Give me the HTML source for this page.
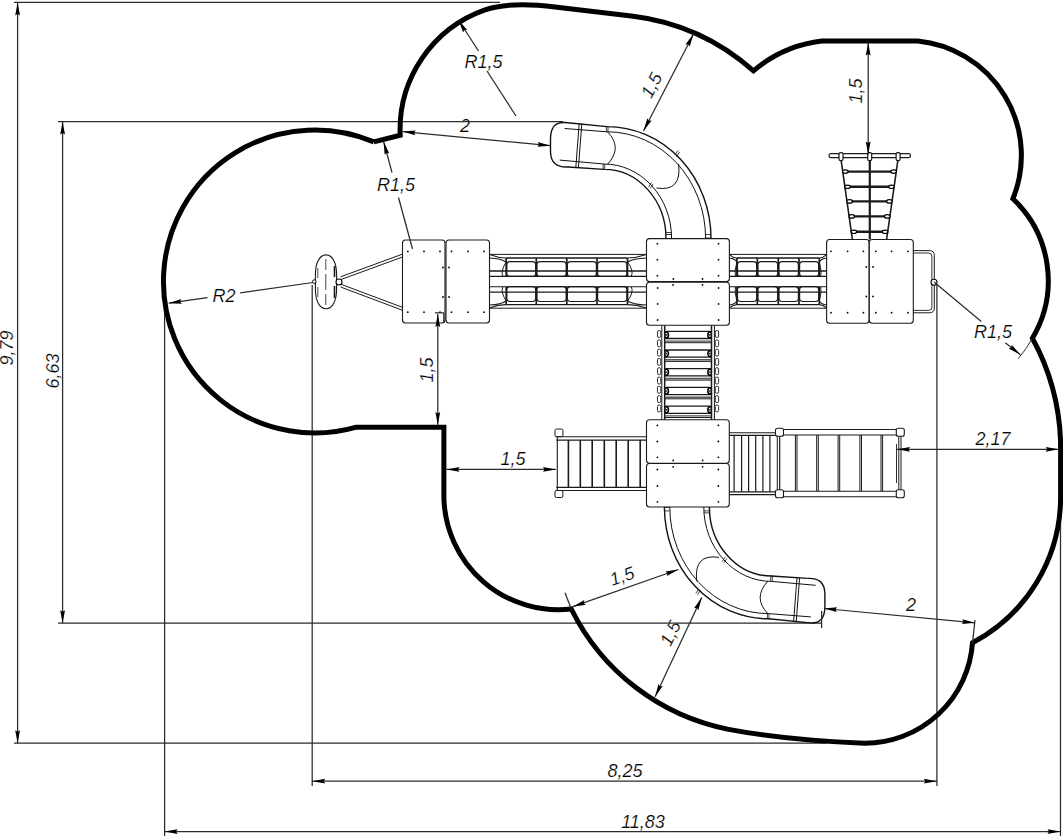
<!DOCTYPE html>
<html><head><meta charset="utf-8"><style>html,body{margin:0;padding:0;background:#fff;overflow:hidden}svg{display:block}</style></head>
<body><svg width="1063" height="836" viewBox="0 0 1063 836"><rect width="100%" height="100%" fill="#fff"/><g font-family="Liberation Sans, sans-serif" font-style="italic" fill="#000"><line x1="14" y1="2.4" x2="500" y2="2.4" stroke="#2b2b2b" stroke-width="1.25"/>
<line x1="14" y1="743.2" x2="826" y2="743.2" stroke="#2b2b2b" stroke-width="1.25"/>
<line x1="17.6" y1="2.4" x2="17.6" y2="743.2" stroke="#2b2b2b" stroke-width="1.25"/>
<path d="M17.6,2.4 L15.2,15.4 L17.6,13.84 L20,15.4 Z" fill="#000"/>
<path d="M17.6,743.2 L20,730.2 L17.6,731.76 L15.2,730.2 Z" fill="#000"/>
<text x="13" y="348" font-size="18" text-anchor="middle" transform="rotate(-90 13 348)" stroke="#fff" stroke-width="0.2">9,79</text>
<line x1="58" y1="121.5" x2="563" y2="121.5" stroke="#2b2b2b" stroke-width="1.25"/>
<line x1="58" y1="623.2" x2="822" y2="623.2" stroke="#2b2b2b" stroke-width="1.25"/>
<line x1="62.6" y1="121.5" x2="62.6" y2="623.2" stroke="#2b2b2b" stroke-width="1.25"/>
<path d="M62.6,121.5 L60.2,134.5 L62.6,132.94 L65,134.5 Z" fill="#000"/>
<path d="M62.6,623.2 L65,610.2 L62.6,611.76 L60.2,610.2 Z" fill="#000"/>
<text x="58.5" y="371" font-size="18" text-anchor="middle" transform="rotate(-90 58.5 371)" stroke="#fff" stroke-width="0.2">6,63</text>
<line x1="164.6" y1="303" x2="164.6" y2="836" stroke="#2b2b2b" stroke-width="1.25"/>
<line x1="1060.5" y1="498" x2="1060.5" y2="836" stroke="#2b2b2b" stroke-width="1.25"/>
<line x1="164.6" y1="831.6" x2="1060.5" y2="831.6" stroke="#2b2b2b" stroke-width="1.25"/>
<path d="M164.6,831.6 L177.6,834 L176.04,831.6 L177.6,829.2 Z" fill="#000"/>
<path d="M1060.5,831.6 L1047.5,829.2 L1049.06,831.6 L1047.5,834 Z" fill="#000"/>
<text x="643" y="827.7" font-size="18" text-anchor="middle" stroke="#fff" stroke-width="0.2">11,83</text>
<line x1="312.2" y1="285" x2="312.2" y2="786" stroke="#2b2b2b" stroke-width="1.25"/>
<line x1="936.9" y1="284" x2="936.9" y2="786" stroke="#2b2b2b" stroke-width="1.25"/>
<line x1="312.2" y1="781.2" x2="936.9" y2="781.2" stroke="#2b2b2b" stroke-width="1.25"/>
<path d="M312.2,781.2 L325.2,783.6 L323.64,781.2 L325.2,778.8 Z" fill="#000"/>
<path d="M936.9,781.2 L923.9,778.8 L925.46,781.2 L923.9,783.6 Z" fill="#000"/>
<text x="625" y="777" font-size="18" text-anchor="middle" stroke="#fff" stroke-width="0.2">8,25</text>
<path d="M373.8,141.9 A151.5,151.5 0 1 0 356.5,427.2 L443.9,427.2 L443.9,498 A114.6,114.6 0 0 0 571.3,609 A223.4,223.4 0 0 0 728.6,729.4 C770,737.2 820,741.6 864.6,743.2 A108,108 0 0 0 972.5,642.8 A165,165 0 0 0 1060.6,499 L1060.6,442 A231,231 0 0 0 1032.4,338.2 A112.4,112.4 0 0 0 1012.9,198.8 A115,115 0 0 0 917.8,41 L821.8,41 A129,129 0 0 0 753.5,70.8 A223.5,223.5 0 0 0 631.4,15.9 L555,6.9 Q509.3,1.5 485,9.8 A127,127 0 0 0 400.2,135.3 L373.8,141.9" fill="none" stroke="#000" stroke-width="5" stroke-linejoin="miter"/>
<line x1="489.5" y1="254.4" x2="646.4" y2="254.4" stroke="#1a1a1a" stroke-width="1"/>
<line x1="489.5" y1="308.2" x2="646.4" y2="308.2" stroke="#1a1a1a" stroke-width="1"/>
<line x1="489.5" y1="271" x2="646.4" y2="271" stroke="#1a1a1a" stroke-width="1.3"/>
<line x1="489.5" y1="292.1" x2="646.4" y2="292.1" stroke="#1a1a1a" stroke-width="1.3"/>
<line x1="489.5" y1="276.4" x2="646.4" y2="276.4" stroke="#1a1a1a" stroke-width="1.1"/>
<line x1="489.5" y1="286.7" x2="646.4" y2="286.7" stroke="#1a1a1a" stroke-width="1.1"/>
<line x1="506.2" y1="258" x2="627.5" y2="258" stroke="#1a1a1a" stroke-width="1.3"/>
<line x1="506.2" y1="304.6" x2="627.5" y2="304.6" stroke="#1a1a1a" stroke-width="1.3"/>
<rect x="506.8" y="261.6" width="28.9" height="14.8" rx="3.2" fill="none" stroke="#1a1a1a" stroke-width="1.2"/>
<rect x="506.8" y="286.7" width="28.9" height="14.8" rx="3.2" fill="none" stroke="#1a1a1a" stroke-width="1.2"/>
<rect x="536.9" y="261.6" width="29.3" height="14.8" rx="3.2" fill="none" stroke="#1a1a1a" stroke-width="1.2"/>
<rect x="536.9" y="286.7" width="29.3" height="14.8" rx="3.2" fill="none" stroke="#1a1a1a" stroke-width="1.2"/>
<rect x="567.4" y="261.6" width="29" height="14.8" rx="3.2" fill="none" stroke="#1a1a1a" stroke-width="1.2"/>
<rect x="567.4" y="286.7" width="29" height="14.8" rx="3.2" fill="none" stroke="#1a1a1a" stroke-width="1.2"/>
<rect x="597.6" y="261.6" width="29.3" height="14.8" rx="3.2" fill="none" stroke="#1a1a1a" stroke-width="1.2"/>
<rect x="597.6" y="286.7" width="29.3" height="14.8" rx="3.2" fill="none" stroke="#1a1a1a" stroke-width="1.2"/>
<line x1="506.2" y1="258" x2="506.2" y2="276.4" stroke="#1a1a1a" stroke-width="1.7"/>
<line x1="506.2" y1="286.7" x2="506.2" y2="304.6" stroke="#1a1a1a" stroke-width="1.7"/>
<line x1="536.3" y1="258" x2="536.3" y2="276.4" stroke="#1a1a1a" stroke-width="1.7"/>
<line x1="536.3" y1="286.7" x2="536.3" y2="304.6" stroke="#1a1a1a" stroke-width="1.7"/>
<line x1="566.8" y1="258" x2="566.8" y2="276.4" stroke="#1a1a1a" stroke-width="1.7"/>
<line x1="566.8" y1="286.7" x2="566.8" y2="304.6" stroke="#1a1a1a" stroke-width="1.7"/>
<line x1="597" y1="258" x2="597" y2="276.4" stroke="#1a1a1a" stroke-width="1.7"/>
<line x1="597" y1="286.7" x2="597" y2="304.6" stroke="#1a1a1a" stroke-width="1.7"/>
<line x1="627.5" y1="258" x2="627.5" y2="276.4" stroke="#1a1a1a" stroke-width="1.7"/>
<line x1="627.5" y1="286.7" x2="627.5" y2="304.6" stroke="#1a1a1a" stroke-width="1.7"/>
<path d="M506.2,258 Q497.85,258 489.5,254.6" fill="none" stroke="#1a1a1a" stroke-width="1.1"/>
<path d="M506.2,304.6 Q497.85,304.6 489.5,308" fill="none" stroke="#1a1a1a" stroke-width="1.1"/>
<path d="M506.2,262 Q501.19,258.5 489.5,258" fill="none" stroke="#1a1a1a" stroke-width="1.1"/>
<path d="M506.2,301 Q501.19,304.5 489.5,305" fill="none" stroke="#1a1a1a" stroke-width="1.1"/>
<path d="M506.2,262 Q500.36,271 502.86,276.4" fill="none" stroke="#1a1a1a" stroke-width="1"/>
<path d="M506.2,301 Q500.36,292 502.86,286.7" fill="none" stroke="#1a1a1a" stroke-width="1"/>
<path d="M627.5,258 Q636.95,258 646.4,254.6" fill="none" stroke="#1a1a1a" stroke-width="1.1"/>
<path d="M627.5,304.6 Q636.95,304.6 646.4,308" fill="none" stroke="#1a1a1a" stroke-width="1.1"/>
<path d="M627.5,262 Q633.17,258.5 646.4,258" fill="none" stroke="#1a1a1a" stroke-width="1.1"/>
<path d="M627.5,301 Q633.17,304.5 646.4,305" fill="none" stroke="#1a1a1a" stroke-width="1.1"/>
<path d="M627.5,262 Q634.12,271 631.28,276.4" fill="none" stroke="#1a1a1a" stroke-width="1"/>
<path d="M627.5,301 Q634.12,292 631.28,286.7" fill="none" stroke="#1a1a1a" stroke-width="1"/>
<line x1="729.4" y1="254.4" x2="826.6" y2="254.4" stroke="#1a1a1a" stroke-width="1"/>
<line x1="729.4" y1="308.2" x2="826.6" y2="308.2" stroke="#1a1a1a" stroke-width="1"/>
<line x1="729.4" y1="271" x2="826.6" y2="271" stroke="#1a1a1a" stroke-width="1.3"/>
<line x1="729.4" y1="292.1" x2="826.6" y2="292.1" stroke="#1a1a1a" stroke-width="1.3"/>
<line x1="729.4" y1="276.4" x2="826.6" y2="276.4" stroke="#1a1a1a" stroke-width="1.1"/>
<line x1="729.4" y1="286.7" x2="826.6" y2="286.7" stroke="#1a1a1a" stroke-width="1.1"/>
<line x1="736.9" y1="258" x2="819.3" y2="258" stroke="#1a1a1a" stroke-width="1.3"/>
<line x1="736.9" y1="304.6" x2="819.3" y2="304.6" stroke="#1a1a1a" stroke-width="1.3"/>
<rect x="737.5" y="261.6" width="19.2" height="14.8" rx="3.2" fill="none" stroke="#1a1a1a" stroke-width="1.2"/>
<rect x="737.5" y="286.7" width="19.2" height="14.8" rx="3.2" fill="none" stroke="#1a1a1a" stroke-width="1.2"/>
<rect x="757.9" y="261.6" width="19.8" height="14.8" rx="3.2" fill="none" stroke="#1a1a1a" stroke-width="1.2"/>
<rect x="757.9" y="286.7" width="19.8" height="14.8" rx="3.2" fill="none" stroke="#1a1a1a" stroke-width="1.2"/>
<rect x="778.9" y="261.6" width="19.5" height="14.8" rx="3.2" fill="none" stroke="#1a1a1a" stroke-width="1.2"/>
<rect x="778.9" y="286.7" width="19.5" height="14.8" rx="3.2" fill="none" stroke="#1a1a1a" stroke-width="1.2"/>
<rect x="799.6" y="261.6" width="19.1" height="14.8" rx="3.2" fill="none" stroke="#1a1a1a" stroke-width="1.2"/>
<rect x="799.6" y="286.7" width="19.1" height="14.8" rx="3.2" fill="none" stroke="#1a1a1a" stroke-width="1.2"/>
<line x1="736.9" y1="258" x2="736.9" y2="276.4" stroke="#1a1a1a" stroke-width="1.7"/>
<line x1="736.9" y1="286.7" x2="736.9" y2="304.6" stroke="#1a1a1a" stroke-width="1.7"/>
<line x1="757.3" y1="258" x2="757.3" y2="276.4" stroke="#1a1a1a" stroke-width="1.7"/>
<line x1="757.3" y1="286.7" x2="757.3" y2="304.6" stroke="#1a1a1a" stroke-width="1.7"/>
<line x1="778.3" y1="258" x2="778.3" y2="276.4" stroke="#1a1a1a" stroke-width="1.7"/>
<line x1="778.3" y1="286.7" x2="778.3" y2="304.6" stroke="#1a1a1a" stroke-width="1.7"/>
<line x1="799" y1="258" x2="799" y2="276.4" stroke="#1a1a1a" stroke-width="1.7"/>
<line x1="799" y1="286.7" x2="799" y2="304.6" stroke="#1a1a1a" stroke-width="1.7"/>
<line x1="819.3" y1="258" x2="819.3" y2="276.4" stroke="#1a1a1a" stroke-width="1.7"/>
<line x1="819.3" y1="286.7" x2="819.3" y2="304.6" stroke="#1a1a1a" stroke-width="1.7"/>
<path d="M736.9,258 Q733.15,258 729.4,254.6" fill="none" stroke="#1a1a1a" stroke-width="1.1"/>
<path d="M736.9,304.6 Q733.15,304.6 729.4,308" fill="none" stroke="#1a1a1a" stroke-width="1.1"/>
<path d="M736.9,262 Q734.65,258.5 729.4,258" fill="none" stroke="#1a1a1a" stroke-width="1.1"/>
<path d="M736.9,301 Q734.65,304.5 729.4,305" fill="none" stroke="#1a1a1a" stroke-width="1.1"/>
<path d="M736.9,262 Q734.27,271 735.4,276.4" fill="none" stroke="#1a1a1a" stroke-width="1"/>
<path d="M736.9,301 Q734.27,292 735.4,286.7" fill="none" stroke="#1a1a1a" stroke-width="1"/>
<path d="M819.3,258 Q822.95,258 826.6,254.6" fill="none" stroke="#1a1a1a" stroke-width="1.1"/>
<path d="M819.3,304.6 Q822.95,304.6 826.6,308" fill="none" stroke="#1a1a1a" stroke-width="1.1"/>
<path d="M819.3,262 Q821.49,258.5 826.6,258" fill="none" stroke="#1a1a1a" stroke-width="1.1"/>
<path d="M819.3,301 Q821.49,304.5 826.6,305" fill="none" stroke="#1a1a1a" stroke-width="1.1"/>
<path d="M819.3,262 Q821.86,271 820.76,276.4" fill="none" stroke="#1a1a1a" stroke-width="1"/>
<path d="M819.3,301 Q821.86,292 820.76,286.7" fill="none" stroke="#1a1a1a" stroke-width="1"/>
<rect x="402.5" y="240" width="42.5" height="83" rx="3" fill="#fff" stroke="#1a1a1a" stroke-width="1.1"/>
<circle cx="407.8" cy="251.4" r="0.9" fill="#000"/>
<circle cx="407.8" cy="312.2" r="0.9" fill="#000"/>
<circle cx="424" cy="251.4" r="0.9" fill="#000"/>
<circle cx="424" cy="312.2" r="0.9" fill="#000"/>
<circle cx="440" cy="251.4" r="0.9" fill="#000"/>
<circle cx="440" cy="312.2" r="0.9" fill="#000"/>
<circle cx="443" cy="267.5" r="0.9" fill="#000"/>
<circle cx="443" cy="297" r="0.9" fill="#000"/>
<rect x="446" y="240" width="43.5" height="83" rx="3" fill="#fff" stroke="#1a1a1a" stroke-width="1.1"/>
<circle cx="451.5" cy="251.4" r="0.9" fill="#000"/>
<circle cx="451.5" cy="312.2" r="0.9" fill="#000"/>
<circle cx="468" cy="251.4" r="0.9" fill="#000"/>
<circle cx="468" cy="312.2" r="0.9" fill="#000"/>
<circle cx="484" cy="251.4" r="0.9" fill="#000"/>
<circle cx="484" cy="312.2" r="0.9" fill="#000"/>
<circle cx="449" cy="267.5" r="0.9" fill="#000"/>
<circle cx="449" cy="297" r="0.9" fill="#000"/>
<rect x="826.6" y="239.5" width="42.5" height="83.8" rx="3" fill="#fff" stroke="#1a1a1a" stroke-width="1.1"/>
<circle cx="831" cy="251.3" r="0.9" fill="#000"/>
<circle cx="831" cy="312.7" r="0.9" fill="#000"/>
<circle cx="847.6" cy="251.3" r="0.9" fill="#000"/>
<circle cx="847.6" cy="312.7" r="0.9" fill="#000"/>
<circle cx="863.4" cy="251.3" r="0.9" fill="#000"/>
<circle cx="863.4" cy="312.7" r="0.9" fill="#000"/>
<circle cx="866.3" cy="267" r="0.9" fill="#000"/>
<circle cx="866.3" cy="296.5" r="0.9" fill="#000"/>
<rect x="869.3" y="239.5" width="44" height="83.8" rx="3" fill="#fff" stroke="#1a1a1a" stroke-width="1.1"/>
<circle cx="875.8" cy="251.3" r="0.9" fill="#000"/>
<circle cx="875.8" cy="312.7" r="0.9" fill="#000"/>
<circle cx="891.6" cy="251.3" r="0.9" fill="#000"/>
<circle cx="891.6" cy="312.7" r="0.9" fill="#000"/>
<circle cx="907.9" cy="251.3" r="0.9" fill="#000"/>
<circle cx="907.9" cy="312.7" r="0.9" fill="#000"/>
<circle cx="873" cy="267" r="0.9" fill="#000"/>
<circle cx="873" cy="296.5" r="0.9" fill="#000"/>
<rect x="646.5" y="238.6" width="82.9" height="43" rx="3" fill="#fff" stroke="#1a1a1a" stroke-width="1.1"/>
<circle cx="657.4" cy="243.7" r="0.9" fill="#000"/>
<circle cx="657.4" cy="259.7" r="0.9" fill="#000"/>
<circle cx="657.4" cy="275.7" r="0.9" fill="#000"/>
<circle cx="718.5" cy="243.7" r="0.9" fill="#000"/>
<circle cx="718.5" cy="259.7" r="0.9" fill="#000"/>
<circle cx="718.5" cy="275.7" r="0.9" fill="#000"/>
<circle cx="673.4" cy="279" r="0.9" fill="#000"/>
<circle cx="702.5" cy="279" r="0.9" fill="#000"/>
<rect x="646.5" y="282.2" width="82.9" height="43.1" rx="3" fill="#fff" stroke="#1a1a1a" stroke-width="1.1"/>
<circle cx="657.6" cy="288" r="0.9" fill="#000"/>
<circle cx="657.6" cy="303.9" r="0.9" fill="#000"/>
<circle cx="657.6" cy="320" r="0.9" fill="#000"/>
<circle cx="718.6" cy="288" r="0.9" fill="#000"/>
<circle cx="718.6" cy="303.9" r="0.9" fill="#000"/>
<circle cx="718.6" cy="320" r="0.9" fill="#000"/>
<circle cx="673" cy="284.9" r="0.9" fill="#000"/>
<circle cx="702.5" cy="284.9" r="0.9" fill="#000"/>
<rect x="646.5" y="419.8" width="82.8" height="43.4" rx="3" fill="#fff" stroke="#1a1a1a" stroke-width="1.1"/>
<circle cx="657.4" cy="425.4" r="0.9" fill="#000"/>
<circle cx="657.4" cy="441.5" r="0.9" fill="#000"/>
<circle cx="657.4" cy="457.3" r="0.9" fill="#000"/>
<circle cx="718.4" cy="425.4" r="0.9" fill="#000"/>
<circle cx="718.4" cy="441.5" r="0.9" fill="#000"/>
<circle cx="718.4" cy="457.3" r="0.9" fill="#000"/>
<circle cx="673.2" cy="460.4" r="0.9" fill="#000"/>
<circle cx="702.6" cy="460.4" r="0.9" fill="#000"/>
<rect x="646.5" y="463.5" width="82.8" height="43.5" rx="3" fill="#fff" stroke="#1a1a1a" stroke-width="1.1"/>
<circle cx="657.4" cy="469.5" r="0.9" fill="#000"/>
<circle cx="657.4" cy="486" r="0.9" fill="#000"/>
<circle cx="657.4" cy="501.8" r="0.9" fill="#000"/>
<circle cx="718.4" cy="469.5" r="0.9" fill="#000"/>
<circle cx="718.4" cy="486" r="0.9" fill="#000"/>
<circle cx="718.4" cy="501.8" r="0.9" fill="#000"/>
<circle cx="673.2" cy="466.8" r="0.9" fill="#000"/>
<circle cx="702.6" cy="466.8" r="0.9" fill="#000"/>
<rect x="657.5" y="330.5" width="3.3" height="7" rx="1.5" fill="#fff" stroke="#1a1a1a" stroke-width="0.9"/>
<rect x="715.3" y="330.5" width="3.3" height="7" rx="1.5" fill="#fff" stroke="#1a1a1a" stroke-width="0.9"/>
<rect x="657.5" y="339.8" width="3.3" height="7" rx="1.5" fill="#fff" stroke="#1a1a1a" stroke-width="0.9"/>
<rect x="715.3" y="339.8" width="3.3" height="7" rx="1.5" fill="#fff" stroke="#1a1a1a" stroke-width="0.9"/>
<rect x="657.5" y="349.1" width="3.3" height="7" rx="1.5" fill="#fff" stroke="#1a1a1a" stroke-width="0.9"/>
<rect x="715.3" y="349.1" width="3.3" height="7" rx="1.5" fill="#fff" stroke="#1a1a1a" stroke-width="0.9"/>
<rect x="657.5" y="358.4" width="3.3" height="7" rx="1.5" fill="#fff" stroke="#1a1a1a" stroke-width="0.9"/>
<rect x="715.3" y="358.4" width="3.3" height="7" rx="1.5" fill="#fff" stroke="#1a1a1a" stroke-width="0.9"/>
<rect x="657.5" y="367.7" width="3.3" height="7" rx="1.5" fill="#fff" stroke="#1a1a1a" stroke-width="0.9"/>
<rect x="715.3" y="367.7" width="3.3" height="7" rx="1.5" fill="#fff" stroke="#1a1a1a" stroke-width="0.9"/>
<rect x="657.5" y="377" width="3.3" height="7" rx="1.5" fill="#fff" stroke="#1a1a1a" stroke-width="0.9"/>
<rect x="715.3" y="377" width="3.3" height="7" rx="1.5" fill="#fff" stroke="#1a1a1a" stroke-width="0.9"/>
<rect x="657.5" y="386.3" width="3.3" height="7" rx="1.5" fill="#fff" stroke="#1a1a1a" stroke-width="0.9"/>
<rect x="715.3" y="386.3" width="3.3" height="7" rx="1.5" fill="#fff" stroke="#1a1a1a" stroke-width="0.9"/>
<rect x="657.5" y="395.6" width="3.3" height="7" rx="1.5" fill="#fff" stroke="#1a1a1a" stroke-width="0.9"/>
<rect x="715.3" y="395.6" width="3.3" height="7" rx="1.5" fill="#fff" stroke="#1a1a1a" stroke-width="0.9"/>
<rect x="657.5" y="404.9" width="3.3" height="7" rx="1.5" fill="#fff" stroke="#1a1a1a" stroke-width="0.9"/>
<rect x="715.3" y="404.9" width="3.3" height="7" rx="1.5" fill="#fff" stroke="#1a1a1a" stroke-width="0.9"/>
<line x1="661.8" y1="325.3" x2="661.8" y2="419.8" stroke="#1a1a1a" stroke-width="1"/>
<line x1="664.7" y1="325.3" x2="664.7" y2="419.8" stroke="#1a1a1a" stroke-width="1.5"/>
<line x1="711.5" y1="325.3" x2="711.5" y2="419.8" stroke="#1a1a1a" stroke-width="1.5"/>
<line x1="714.4" y1="325.3" x2="714.4" y2="419.8" stroke="#1a1a1a" stroke-width="1"/>
<rect x="665" y="331.3" width="46.2" height="7.2" rx="2" fill="none" stroke="#1a1a1a" stroke-width="1.3"/>
<line x1="665" y1="341.1" x2="711.2" y2="341.1" stroke="#555" stroke-width="1.4"/>
<line x1="665" y1="342.7" x2="711.2" y2="342.7" stroke="#1a1a1a" stroke-width="1"/>
<path d="M665.3,331.7 A3.2,3.2 0 0 1 665.3,338.1" fill="none" stroke="#000" stroke-width="1.5"/>
<path d="M711,331.7 A3.2,3.2 0 0 0 711,338.1" fill="none" stroke="#000" stroke-width="1.5"/>
<circle cx="666.6" cy="334.9" r="0.8" fill="#000"/>
<circle cx="709.7" cy="334.9" r="0.8" fill="#000"/>
<rect x="665" y="350" width="46.2" height="7.2" rx="2" fill="none" stroke="#1a1a1a" stroke-width="1.3"/>
<line x1="665" y1="359.8" x2="711.2" y2="359.8" stroke="#555" stroke-width="1.4"/>
<line x1="665" y1="361.4" x2="711.2" y2="361.4" stroke="#1a1a1a" stroke-width="1"/>
<path d="M665.3,350.4 A3.2,3.2 0 0 1 665.3,356.8" fill="none" stroke="#000" stroke-width="1.5"/>
<path d="M711,350.4 A3.2,3.2 0 0 0 711,356.8" fill="none" stroke="#000" stroke-width="1.5"/>
<circle cx="666.6" cy="353.6" r="0.8" fill="#000"/>
<circle cx="709.7" cy="353.6" r="0.8" fill="#000"/>
<rect x="665" y="368.7" width="46.2" height="7.2" rx="2" fill="none" stroke="#1a1a1a" stroke-width="1.3"/>
<line x1="665" y1="378.5" x2="711.2" y2="378.5" stroke="#555" stroke-width="1.4"/>
<line x1="665" y1="380.1" x2="711.2" y2="380.1" stroke="#1a1a1a" stroke-width="1"/>
<path d="M665.3,369.1 A3.2,3.2 0 0 1 665.3,375.5" fill="none" stroke="#000" stroke-width="1.5"/>
<path d="M711,369.1 A3.2,3.2 0 0 0 711,375.5" fill="none" stroke="#000" stroke-width="1.5"/>
<circle cx="666.6" cy="372.3" r="0.8" fill="#000"/>
<circle cx="709.7" cy="372.3" r="0.8" fill="#000"/>
<rect x="665" y="387.4" width="46.2" height="7.2" rx="2" fill="none" stroke="#1a1a1a" stroke-width="1.3"/>
<line x1="665" y1="397.2" x2="711.2" y2="397.2" stroke="#555" stroke-width="1.4"/>
<line x1="665" y1="398.8" x2="711.2" y2="398.8" stroke="#1a1a1a" stroke-width="1"/>
<path d="M665.3,387.8 A3.2,3.2 0 0 1 665.3,394.2" fill="none" stroke="#000" stroke-width="1.5"/>
<path d="M711,387.8 A3.2,3.2 0 0 0 711,394.2" fill="none" stroke="#000" stroke-width="1.5"/>
<circle cx="666.6" cy="391" r="0.8" fill="#000"/>
<circle cx="709.7" cy="391" r="0.8" fill="#000"/>
<rect x="665" y="406.1" width="46.2" height="7.2" rx="2" fill="none" stroke="#1a1a1a" stroke-width="1.3"/>
<line x1="665" y1="415.9" x2="711.2" y2="415.9" stroke="#555" stroke-width="1.4"/>
<line x1="665" y1="417.5" x2="711.2" y2="417.5" stroke="#1a1a1a" stroke-width="1"/>
<path d="M665.3,406.5 A3.2,3.2 0 0 1 665.3,412.9" fill="none" stroke="#000" stroke-width="1.5"/>
<path d="M711,406.5 A3.2,3.2 0 0 0 711,412.9" fill="none" stroke="#000" stroke-width="1.5"/>
<circle cx="666.6" cy="409.7" r="0.8" fill="#000"/>
<circle cx="709.7" cy="409.7" r="0.8" fill="#000"/>
<rect x="555" y="429" width="7.9" height="7.7" rx="1.5" fill="#fff" stroke="#1a1a1a" stroke-width="1"/>
<rect x="555" y="490.5" width="7.9" height="7" rx="1.5" fill="#fff" stroke="#1a1a1a" stroke-width="1"/>
<line x1="556.3" y1="436.7" x2="646.4" y2="436.7" stroke="#1a1a1a" stroke-width="1.1"/>
<line x1="556.3" y1="440.1" x2="646.4" y2="440.1" stroke="#1a1a1a" stroke-width="1.1"/>
<line x1="556.3" y1="487.4" x2="646.4" y2="487.4" stroke="#1a1a1a" stroke-width="1.1"/>
<line x1="556.3" y1="490.5" x2="646.4" y2="490.5" stroke="#1a1a1a" stroke-width="1.1"/>
<line x1="557.3" y1="436.7" x2="557.3" y2="490.5" stroke="#1a1a1a" stroke-width="1.1"/>
<line x1="568.4" y1="440.1" x2="568.4" y2="487.4" stroke="#1a1a1a" stroke-width="1.6"/>
<line x1="580.3" y1="440.1" x2="580.3" y2="487.4" stroke="#1a1a1a" stroke-width="1.6"/>
<line x1="592.2" y1="440.1" x2="592.2" y2="487.4" stroke="#1a1a1a" stroke-width="1.6"/>
<line x1="604.3" y1="440.1" x2="604.3" y2="487.4" stroke="#1a1a1a" stroke-width="1.6"/>
<line x1="616.2" y1="440.1" x2="616.2" y2="487.4" stroke="#1a1a1a" stroke-width="1.6"/>
<line x1="628.2" y1="440.1" x2="628.2" y2="487.4" stroke="#1a1a1a" stroke-width="1.6"/>
<line x1="640.2" y1="440.1" x2="640.2" y2="487.4" stroke="#1a1a1a" stroke-width="1.6"/>
<line x1="729.3" y1="432.8" x2="775.5" y2="432.8" stroke="#1a1a1a" stroke-width="1.1"/>
<line x1="729.3" y1="435.4" x2="775.5" y2="435.4" stroke="#1a1a1a" stroke-width="1.3"/>
<line x1="729.3" y1="491.8" x2="775.5" y2="491.8" stroke="#1a1a1a" stroke-width="1.3"/>
<line x1="729.3" y1="494.6" x2="775.5" y2="494.6" stroke="#1a1a1a" stroke-width="1.1"/>
<line x1="734.1" y1="435.4" x2="734.1" y2="491.8" stroke="#1a1a1a" stroke-width="1.2"/>
<line x1="741.6" y1="435.4" x2="741.6" y2="491.8" stroke="#1a1a1a" stroke-width="1.2"/>
<line x1="748.6" y1="435.4" x2="748.6" y2="491.8" stroke="#1a1a1a" stroke-width="1.2"/>
<line x1="755.7" y1="435.4" x2="755.7" y2="491.8" stroke="#1a1a1a" stroke-width="1.2"/>
<line x1="762.9" y1="435.4" x2="762.9" y2="491.8" stroke="#1a1a1a" stroke-width="1.2"/>
<line x1="769.9" y1="435.4" x2="769.9" y2="491.8" stroke="#1a1a1a" stroke-width="1.2"/>
<line x1="779" y1="429.5" x2="900" y2="429.5" stroke="#1a1a1a" stroke-width="1.1"/>
<line x1="779" y1="435" x2="900" y2="435" stroke="#1a1a1a" stroke-width="1.1"/>
<line x1="779" y1="491.2" x2="900" y2="491.2" stroke="#1a1a1a" stroke-width="1.1"/>
<line x1="779" y1="496.8" x2="900" y2="496.8" stroke="#1a1a1a" stroke-width="1.1"/>
<line x1="777.3" y1="436" x2="777.3" y2="490" stroke="#1a1a1a" stroke-width="1"/>
<line x1="779.7" y1="436" x2="779.7" y2="490" stroke="#1a1a1a" stroke-width="1.2"/>
<line x1="898.8" y1="436" x2="898.8" y2="490" stroke="#1a1a1a" stroke-width="1"/>
<line x1="901" y1="436" x2="901" y2="490" stroke="#1a1a1a" stroke-width="1"/>
<line x1="795.4" y1="435" x2="795.4" y2="491.2" stroke="#1a1a1a" stroke-width="1"/>
<line x1="797" y1="435" x2="797" y2="491.2" stroke="#1a1a1a" stroke-width="1"/>
<line x1="816.7" y1="435" x2="816.7" y2="491.2" stroke="#1a1a1a" stroke-width="1"/>
<line x1="818.3" y1="435" x2="818.3" y2="491.2" stroke="#1a1a1a" stroke-width="1"/>
<line x1="838.1" y1="435" x2="838.1" y2="491.2" stroke="#1a1a1a" stroke-width="1"/>
<line x1="839.7" y1="435" x2="839.7" y2="491.2" stroke="#1a1a1a" stroke-width="1"/>
<line x1="859.9" y1="435" x2="859.9" y2="491.2" stroke="#1a1a1a" stroke-width="1"/>
<line x1="861.5" y1="435" x2="861.5" y2="491.2" stroke="#1a1a1a" stroke-width="1"/>
<line x1="881" y1="435" x2="881" y2="491.2" stroke="#1a1a1a" stroke-width="1"/>
<line x1="882.6" y1="435" x2="882.6" y2="491.2" stroke="#1a1a1a" stroke-width="1"/>
<rect x="775.5" y="428.2" width="8" height="8" rx="2" fill="#fff" stroke="#1a1a1a" stroke-width="1.1"/>
<rect x="896.3" y="428.2" width="8" height="8" rx="2" fill="#fff" stroke="#1a1a1a" stroke-width="1.1"/>
<rect x="775.5" y="489.8" width="8" height="8" rx="2" fill="#fff" stroke="#1a1a1a" stroke-width="1.1"/>
<rect x="896.3" y="489.8" width="8" height="8" rx="2" fill="#fff" stroke="#1a1a1a" stroke-width="1.1"/>
<path d="M831,153.6 L908.5,153.6 A2,2 0 0 1 908.5,157.6 L831,157.6 A2,2 0 0 1 831,153.6 Z" fill="none" stroke="#1a1a1a" stroke-width="1.1"/>
<line x1="840.8" y1="158" x2="852.4" y2="239.5" stroke="#1a1a1a" stroke-width="1.6"/>
<line x1="898.2" y1="158" x2="886.6" y2="239.5" stroke="#1a1a1a" stroke-width="1.6"/>
<line x1="869.8" y1="158" x2="869.8" y2="239.5" stroke="#1a1a1a" stroke-width="2.2"/>
<rect x="839" y="152.6" width="4" height="8" rx="1.6" fill="#fff" stroke="#1a1a1a" stroke-width="1.2"/>
<rect x="867.7" y="152.6" width="4" height="8" rx="1.6" fill="#fff" stroke="#1a1a1a" stroke-width="1.2"/>
<rect x="896.1" y="152.6" width="4" height="8" rx="1.6" fill="#fff" stroke="#1a1a1a" stroke-width="1.2"/>
<line x1="842.74" y1="171.6" x2="896.26" y2="171.6" stroke="#1a1a1a" stroke-width="2.4"/>
<ellipse cx="845.34" cy="171.6" rx="2.8" ry="1.7" fill="#fff" stroke="#000" stroke-width="1.2"/>
<ellipse cx="893.66" cy="171.6" rx="2.8" ry="1.7" fill="#fff" stroke="#000" stroke-width="1.2"/>
<line x1="844.9" y1="186.8" x2="894.1" y2="186.8" stroke="#1a1a1a" stroke-width="2.4"/>
<ellipse cx="847.5" cy="186.8" rx="2.8" ry="1.7" fill="#fff" stroke="#000" stroke-width="1.2"/>
<ellipse cx="891.5" cy="186.8" rx="2.8" ry="1.7" fill="#fff" stroke="#000" stroke-width="1.2"/>
<line x1="846.98" y1="201.4" x2="892.02" y2="201.4" stroke="#1a1a1a" stroke-width="2.4"/>
<ellipse cx="849.58" cy="201.4" rx="2.8" ry="1.7" fill="#fff" stroke="#000" stroke-width="1.2"/>
<ellipse cx="889.42" cy="201.4" rx="2.8" ry="1.7" fill="#fff" stroke="#000" stroke-width="1.2"/>
<line x1="849.11" y1="216.4" x2="889.89" y2="216.4" stroke="#1a1a1a" stroke-width="2.4"/>
<ellipse cx="851.71" cy="216.4" rx="2.8" ry="1.7" fill="#fff" stroke="#000" stroke-width="1.2"/>
<ellipse cx="887.29" cy="216.4" rx="2.8" ry="1.7" fill="#fff" stroke="#000" stroke-width="1.2"/>
<line x1="851.3" y1="231.8" x2="887.7" y2="231.8" stroke="#1a1a1a" stroke-width="2.4"/>
<ellipse cx="853.9" cy="231.8" rx="2.8" ry="1.7" fill="#fff" stroke="#000" stroke-width="1.2"/>
<ellipse cx="885.1" cy="231.8" rx="2.8" ry="1.7" fill="#fff" stroke="#000" stroke-width="1.2"/>
<path d="M913.3,250.6 L929.5,250.6 Q934.3,250.6 934.3,255.4 L934.3,308 Q934.3,312.8 929.5,312.8 L913.3,312.8" fill="none" stroke="#1a1a1a" stroke-width="1"/>
<path d="M913.3,253 L928.7,253 Q931.9,253 931.9,256.2 L931.9,307.2 Q931.9,310.4 928.7,310.4 L913.3,310.4" fill="none" stroke="#1a1a1a" stroke-width="0.9"/>
<circle cx="934" cy="282.2" r="3" fill="#fff" stroke="#000" stroke-width="1.1"/>
<path d="M326,254.9 C333,254.9 336.6,264 336.6,275 L336.6,289 C336.6,300 333,308.7 326,308.7 C319,308.7 315.4,300 315.4,289 L315.4,275 C315.4,264 319,254.9 326,254.9 Z" fill="#fff" stroke="#1a1a1a" stroke-width="1.1"/>
<path d="M325.8,259 V270 M325.8,274 V290 M325.8,294 V305 M317.8,268 V278 M317.8,287 V297" fill="none" stroke="#1a1a1a" stroke-width="0.8"/>
<path d="M334.5,266 V277 M334.5,286 V298" fill="none" stroke="#1a1a1a" stroke-width="1.6"/>
<line x1="340.6" y1="276.8" x2="402.3" y2="254.2" stroke="#1a1a1a" stroke-width="1"/>
<line x1="341" y1="279.5" x2="402.3" y2="257.1" stroke="#1a1a1a" stroke-width="1"/>
<line x1="341" y1="284.3" x2="402.3" y2="307.3" stroke="#1a1a1a" stroke-width="1"/>
<line x1="340.6" y1="287" x2="402.3" y2="310.2" stroke="#1a1a1a" stroke-width="1"/>
<circle cx="339" cy="282" r="3" fill="#fff" stroke="#000" stroke-width="1.1"/>
<circle cx="314.2" cy="281.6" r="1.8" fill="#fff" stroke="#000" stroke-width="0.9"/>
<g fill="none" stroke="#111"><path d="M565,122.5 L607,126.6 A104,111.8 0 0 1 711,238.4" stroke-width="1.4"/><path d="M564.6,128.5 L607,131.8 A98.6,106.6 0 0 1 705.6,238.4" stroke-width="1"/><path d="M559.7,160.1 L604,164 A67.6,74.4 0 0 1 671.6,238.4" stroke-width="1"/><path d="M568,167 L604,169.4 A62,69 0 0 1 666,238.4" stroke-width="1.4"/><path d="M565,122.5 Q551,121.5 550.5,138 L550.5,152 Q551,168 568,167" stroke-width="1.4"/><path d="M607.5,131.8 Q623,147.5 607.5,164.3" stroke-width="1"/><path d="M579.2,123.3 L575.8,167.7 M581.8,123.6 L578.4,168" stroke-width="1"/><path d="M678.6,164 Q682,192 656.5,188" stroke-width="1"/><path d="M606.4,126 L606.4,132 M608,126.2 L608,132 M603.2,164 L603,169.8 M604.8,164 L604.6,169.8" stroke-width="0.8"/><path d="M705.8,238 L711,238 M705.8,234.5 L711,234.5 M666,234.5 L671.6,234.5 M666,232.5 L671.6,232.5" stroke-width="0.8"/><path d="M675,155 L678,150.5 M676.6,156.4 L679.6,152 M648.5,187 L651.5,182.5 M650.2,188.5 L653,184" stroke-width="0.8"/></g>
<g transform="rotate(180 687.7 372.7)" fill="none" stroke="#111"><path d="M565,122.5 L607,126.6 A104,111.8 0 0 1 711,238.4" stroke-width="1.4"/><path d="M564.6,128.5 L607,131.8 A98.6,106.6 0 0 1 705.6,238.4" stroke-width="1"/><path d="M559.7,160.1 L604,164 A67.6,74.4 0 0 1 671.6,238.4" stroke-width="1"/><path d="M568,167 L604,169.4 A62,69 0 0 1 666,238.4" stroke-width="1.4"/><path d="M565,122.5 Q551,121.5 550.5,138 L550.5,152 Q551,168 568,167" stroke-width="1.4"/><path d="M607.5,131.8 Q623,147.5 607.5,164.3" stroke-width="1"/><path d="M579.2,123.3 L575.8,167.7 M581.8,123.6 L578.4,168" stroke-width="1"/><path d="M678.6,164 Q682,192 656.5,188" stroke-width="1"/><path d="M606.4,126 L606.4,132 M608,126.2 L608,132 M603.2,164 L603,169.8 M604.8,164 L604.6,169.8" stroke-width="0.8"/><path d="M705.8,238 L711,238 M705.8,234.5 L711,234.5 M666,234.5 L671.6,234.5 M666,232.5 L671.6,232.5" stroke-width="0.8"/><path d="M675,155 L678,150.5 M676.6,156.4 L679.6,152 M648.5,187 L651.5,182.5 M650.2,188.5 L653,184" stroke-width="0.8"/></g>
<line x1="402.6" y1="131.6" x2="550.5" y2="145.7" stroke="#2b2b2b" stroke-width="1.25"/>
<path d="M402.6,131.6 L415.31,135.22 L413.99,132.69 L415.77,130.44 Z" fill="#000"/>
<path d="M550.5,145.7 L537.79,142.08 L539.11,144.61 L537.33,146.86 Z" fill="#000"/>
<text x="465" y="132" font-size="18" text-anchor="middle" stroke="#fff" stroke-width="0.2">2</text>
<line x1="824" y1="608.5" x2="975" y2="622.8" stroke="#2b2b2b" stroke-width="1.25"/>
<path d="M824,608.5 L836.72,612.11 L835.39,609.58 L837.17,607.34 Z" fill="#000"/>
<path d="M975,622.8 L962.28,619.19 L963.61,621.72 L961.83,623.96 Z" fill="#000"/>
<text x="911" y="611" font-size="18" text-anchor="middle" stroke="#fff" stroke-width="0.2">2</text>
<line x1="975" y1="620" x2="972.5" y2="643" stroke="#2b2b2b" stroke-width="1.25"/>
<line x1="821.6" y1="611" x2="821.6" y2="628" stroke="#2b2b2b" stroke-width="1.25"/>
<line x1="693.5" y1="34" x2="643.5" y2="131" stroke="#2b2b2b" stroke-width="1.25"/>
<path d="M693.5,34 L685.41,44.46 L688.26,44.17 L689.68,46.65 Z" fill="#000"/>
<path d="M643.5,131 L651.59,120.54 L648.74,120.83 L647.32,118.35 Z" fill="#000"/>
<text x="657" y="88" font-size="18" text-anchor="middle" transform="rotate(-63 657 88)" stroke="#fff" stroke-width="0.2">1,5</text>
<line x1="868.2" y1="42.5" x2="868.2" y2="154.5" stroke="#2b2b2b" stroke-width="1.25"/>
<path d="M868.2,42.5 L865.8,55.5 L868.2,53.94 L870.6,55.5 Z" fill="#000"/>
<path d="M868.2,154.5 L870.6,141.5 L868.2,143.06 L865.8,141.5 Z" fill="#000"/>
<text x="862" y="91" font-size="18" text-anchor="middle" transform="rotate(-90 862 91)" stroke="#fff" stroke-width="0.2">1,5</text>
<line x1="437.8" y1="314" x2="437.8" y2="425" stroke="#2b2b2b" stroke-width="1.25"/>
<path d="M437.8,314 L435.4,327 L437.8,325.44 L440.2,327 Z" fill="#000"/>
<path d="M437.8,425 L440.2,412 L437.8,413.56 L435.4,412 Z" fill="#000"/>
<text x="433" y="370" font-size="18" text-anchor="middle" transform="rotate(-90 433 370)" stroke="#fff" stroke-width="0.2">1,5</text>
<line x1="435" y1="312.8" x2="443.8" y2="312.8" stroke="#2b2b2b" stroke-width="1.25"/>
<line x1="443.8" y1="312.8" x2="443.8" y2="323" stroke="#2b2b2b" stroke-width="1.25"/>
<line x1="446.5" y1="469.4" x2="556" y2="469.4" stroke="#2b2b2b" stroke-width="1.25"/>
<path d="M446.5,469.4 L459.5,471.8 L457.94,469.4 L459.5,467 Z" fill="#000"/>
<path d="M556,469.4 L543,467 L544.56,469.4 L543,471.8 Z" fill="#000"/>
<text x="513" y="465" font-size="18" text-anchor="middle" stroke="#fff" stroke-width="0.2">1,5</text>
<line x1="572.8" y1="606.7" x2="678.4" y2="569.5" stroke="#2b2b2b" stroke-width="1.25"/>
<path d="M572.8,606.7 L585.86,604.64 L583.59,602.9 L584.26,600.12 Z" fill="#000"/>
<path d="M678.4,569.5 L665.34,571.56 L667.61,573.3 L666.94,576.08 Z" fill="#000"/>
<text x="624" y="582" font-size="18" text-anchor="middle" transform="rotate(-19 624 582)" stroke="#fff" stroke-width="0.2">1,5</text>
<line x1="565" y1="592.8" x2="571.3" y2="609" stroke="#2b2b2b" stroke-width="1.25"/>
<line x1="701.7" y1="597.4" x2="655.1" y2="696.8" stroke="#2b2b2b" stroke-width="1.25"/>
<path d="M701.7,597.4 L694.01,608.15 L696.84,607.76 L698.35,610.19 Z" fill="#000"/>
<path d="M655.1,696.8 L662.79,686.05 L659.96,686.44 L658.45,684.01 Z" fill="#000"/>
<text x="676" y="636" font-size="18" text-anchor="middle" transform="rotate(-64 676 636)" stroke="#fff" stroke-width="0.2">1,5</text>
<line x1="897" y1="449.3" x2="1058.7" y2="449.3" stroke="#2b2b2b" stroke-width="1.25"/>
<path d="M897,449.3 L910,451.7 L908.44,449.3 L910,446.9 Z" fill="#000"/>
<path d="M1058.7,449.3 L1045.7,446.9 L1047.26,449.3 L1045.7,451.7 Z" fill="#000"/>
<line x1="896.5" y1="444" x2="896.5" y2="483" stroke="#2b2b2b" stroke-width="1"/>
<text x="993" y="445" font-size="18" text-anchor="middle" stroke="#fff" stroke-width="0.2">2,17</text>
<line x1="516" y1="116" x2="487" y2="71" stroke="#2b2b2b" stroke-width="1.25"/>
<line x1="478.5" y1="51" x2="458.5" y2="20" stroke="#2b2b2b" stroke-width="1.25"/>
<path d="M458.5,20 L463.12,32.39 L464.38,29.81 L467.24,29.92 Z" fill="#000"/>
<text x="483.5" y="68" font-size="18" text-anchor="middle" stroke="#fff" stroke-width="0.2">R1,5</text>
<line x1="412.5" y1="249" x2="398.5" y2="197.5" stroke="#2b2b2b" stroke-width="1.25"/>
<line x1="392" y1="172.5" x2="383.6" y2="141.6" stroke="#2b2b2b" stroke-width="1.25"/>
<path d="M383.6,141.6 L384.66,154.78 L386.57,152.65 L389.3,153.53 Z" fill="#000"/>
<text x="396" y="191" font-size="18" text-anchor="middle" stroke="#fff" stroke-width="0.2">R1,5</text>
<line x1="313" y1="282.5" x2="240.2" y2="292.9" stroke="#2b2b2b" stroke-width="1.25"/>
<line x1="207.5" y1="297.6" x2="168.7" y2="303.2" stroke="#2b2b2b" stroke-width="1.25"/>
<path d="M168.7,303.2 L181.91,303.73 L180.02,301.58 L181.23,298.98 Z" fill="#000"/>
<text x="224" y="302" font-size="18" text-anchor="middle" stroke="#fff" stroke-width="0.2">R2</text>
<line x1="934" y1="282" x2="981.3" y2="321.6" stroke="#2b2b2b" stroke-width="1.25"/>
<text x="993" y="338" font-size="18" text-anchor="middle" stroke="#fff" stroke-width="0.2">R1,5</text>
<line x1="1005.3" y1="342.7" x2="1020.4" y2="354.7" stroke="#2b2b2b" stroke-width="1.25"/>
<path d="M1020.4,354.7 L1011.72,344.73 L1011.44,347.58 L1008.73,348.49 Z" fill="#000"/>
<path d="M1032.4,338.2 A112.4,112.4 0 0 1 1018.2,358.6" fill="none" stroke="#2b2b2b" stroke-width="1"/></g></svg></body></html>
